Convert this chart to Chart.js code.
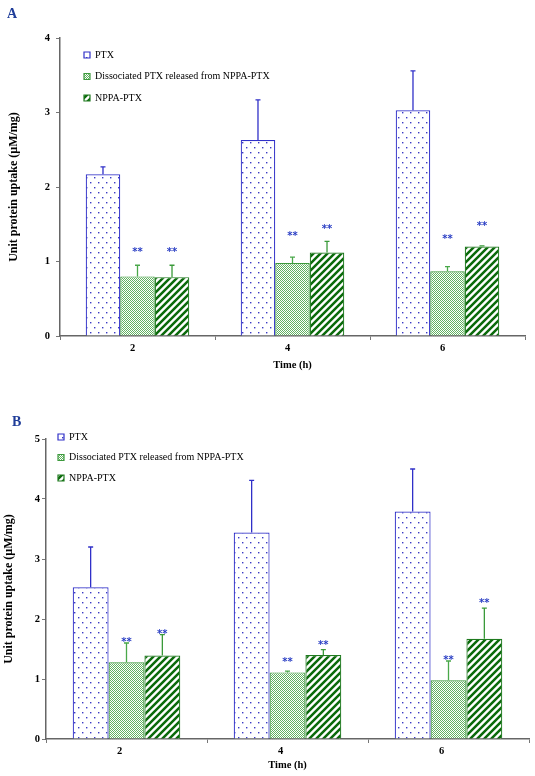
<!DOCTYPE html>
<html><head><meta charset="utf-8">
<script src="https://cdn.jsdelivr.net/npm/chart.js@4.4.1/dist/chart.umd.min.js"></script>
<style>
html,body{margin:0;padding:0;background:#fff;}
#wrap{position:relative;width:535px;height:776px;overflow:hidden;background:#fff;}
canvas{position:absolute;left:0;}
.panel{position:absolute;font:bold 14px "Liberation Serif",serif;color:#1f3d99;line-height:1;}
</style></head><body>
<div id="wrap">
<canvas id="cA" width="535" height="390" style="top:0"></canvas>
<canvas id="cB" width="535" height="386" style="top:390px"></canvas>
<div class="panel" style="left:7px;top:7px">A</div>
<div class="panel" style="left:12px;top:415px">B</div>
</div>
<script>
// ---- data ----
const timeLabels = ['2', '4', '6'];
const seriesNames = ['PTX', 'Dissociated PTX released from NPPA-PTX', 'NPPA-PTX'];
const xTitle = 'Time (h)';
const yTitle = 'Unit protein uptake (\u00b5M/mg)';

// Panel A
const ptxA      = [2.17, 2.63, 3.03];
const ptxErrA   = [0.10, 0.54, 0.53];
const dissA     = [0.80, 0.98, 0.87];
const dissErrA  = [0.15, 0.08, 0.06];
const nppaA     = [0.79, 1.12, 1.20];
const nppaErrA  = [0.16, 0.15, 0.01];
const dissSigA  = [1.17, 1.38, 1.34];   // height of "**" marks
const nppaSigA  = [1.17, 1.48, 1.52];
const yTicksA   = [0, 1, 2, 3, 4];

// Panel B
const ptxB      = [2.53, 3.44, 3.79];
const ptxErrB   = [0.67, 0.87, 0.71];
const dissB     = [1.28, 1.11, 0.98];
const dissErrB  = [0.32, 0.02, 0.32];
const nppaB     = [1.39, 1.40, 1.67];
const nppaErrB  = [0.35, 0.09, 0.51];
const dissSigB  = [1.67, 1.33, 1.37];
const nppaSigB  = [1.80, 1.61, 2.31];
const yTicksB   = [0, 1, 2, 3, 4, 5];

// ---- patterns ----
function makeCanvas(w, h) { const c = document.createElement('canvas'); c.width = w; c.height = h; return c; }
function dotPattern() {
  const c = makeCanvas(8, 10), g = c.getContext('2d');
  g.fillStyle = '#fff'; g.fillRect(0, 0, 8, 10);
  g.fillStyle = '#3a3ac4';
  g.fillRect(2, 2, 1.4, 1.4); g.fillRect(6, 7, 1.4, 1.4);
  return g.createPattern(c, 'repeat');
}
function finePattern() {
  const c = makeCanvas(2, 2), g = c.getContext('2d');
  g.fillStyle = '#fff'; g.fillRect(0, 0, 2, 2);
  g.fillStyle = '#62b262';
  g.fillRect(0, 0, 1, 1); g.fillRect(1, 1, 1, 1);
  return g.createPattern(c, 'repeat');
}
function hatchPattern() {
  const s = 7, c = makeCanvas(s, s), g = c.getContext('2d');
  g.fillStyle = '#fff'; g.fillRect(0, 0, s, s);
  g.strokeStyle = '#0b6a0b'; g.lineWidth = 2.5; g.lineCap = 'square';
  g.beginPath();
  g.moveTo(0, s); g.lineTo(s, 0);
  g.moveTo(-1, 1); g.lineTo(1, -1);
  g.moveTo(s - 1, s + 1); g.lineTo(s + 1, s - 1);
  g.stroke();
  return g.createPattern(c, 'repeat');
}

// ---- plugins ----
const errorPlugin = {
  id: 'errorMarks',
  afterDatasetsDraw(chart) {
    const ctx = chart.ctx, y = chart.scales.y;
    chart.data.datasets.forEach((ds, i) => {
      const meta = chart.getDatasetMeta(i);
      meta.data.forEach((bar, j) => {
        const v = ds.data[j], e = ds.errors[j];
        const yt = bar.y, ye = y.getPixelForValue(v + e);
        ctx.save();
        ctx.strokeStyle = ds.errorColor; ctx.lineWidth = 1.3;
        ctx.beginPath();
        ctx.moveTo(bar.x, yt); ctx.lineTo(bar.x, ye);
        ctx.moveTo(bar.x - 2.5, ye); ctx.lineTo(bar.x + 2.5, ye);
        ctx.stroke();
        if (ds.sig) {
          ctx.fillStyle = '#2b3fc4';
          ctx.font = 'bold 10px "DejaVu Sans", sans-serif';
          ctx.textAlign = 'center'; ctx.textBaseline = 'alphabetic';
          ctx.fillText('**', bar.x, y.getPixelForValue(ds.sig[j]) + 6);
        }
        ctx.restore();
      });
    });
  }
};
const legendPosPlugin = {
  id: 'legendPos',
  afterLayout(chart, args, opts) {
    const lg = chart.legend;
    if (!lg) return;
    lg.left = opts.x; lg.top = opts.y;
    lg.right = lg.left + lg.width; lg.bottom = lg.top + lg.height;
  }
};

function makeChart(id, p) {
  const dsets = [
    { label: seriesNames[0], data: p.ptx, errors: p.ptxErr, backgroundColor: dotPattern(),
      borderColor: '#3030c8', borderWidth: 1.2, errorColor: '#3030c8' },
    { label: seriesNames[1], data: p.diss, errors: p.dissErr, sig: p.dissSig, backgroundColor: finePattern(),
      borderColor: '#3d9a3d', borderWidth: 1.2, errorColor: '#4aa84a' },
    { label: seriesNames[2], data: p.nppa, errors: p.nppaErr, sig: p.nppaSig, backgroundColor: hatchPattern(),
      borderColor: '#1f7a1f', borderWidth: 1.2, errorColor: '#3a9a3a' }
  ];
  const serif = '"Liberation Serif", "Times New Roman", serif';
  return new Chart(document.getElementById(id), {
    type: 'bar',
    data: { labels: timeLabels, datasets: dsets },
    plugins: [errorPlugin, legendPosPlugin],
    options: {
      responsive: false, animation: false, devicePixelRatio: 1,
      layout: { padding: { left: 0, top: p.padTop, right: p.padRight, bottom: 0 } },
      datasets: { bar: { categoryPercentage: 0.668, barPercentage: 1.0 } },
      plugins: {
        tooltip: { enabled: false },
        legend: {
          position: 'chartArea', align: 'start',
          labels: { boxWidth: 6, boxHeight: 6, padding: p.legPad, color: '#000',
            font: { family: serif, size: 10 } }
        },
        legendPos: { x: p.legX, y: p.legY }
      },
      scales: {
        x: {
          afterFit(s) { s.height = p.xHeight; },
          grid: { drawOnChartArea: false, drawTicks: true, tickLength: 4, color: '#777' },
          border: { color: '#666', width: 1.5 },
          ticks: { color: '#000', padding: 2, labelOffset: p.labelOffset,
            font: { family: serif, size: 10.5, weight: 'bold' } },
          title: { display: true, text: xTitle, color: '#000',
            padding: { top: 0, bottom: p.xTitlePad },
            font: { family: serif, size: 10.5, weight: 'bold' } }
        },
        y: {
          min: 0, max: p.yTicks[p.yTicks.length - 1],
          afterFit(s) { s.width = p.yWidth; },
          afterBuildTicks(s) { s.ticks = p.yTicks.map(v => ({ value: v })); },
          grid: { drawOnChartArea: false, drawTicks: true, tickLength: 4, color: '#777' },
          border: { color: '#666', width: 1.5 },
          ticks: { color: '#000', padding: p.yTickPad,
            font: { family: serif, size: 10.5, weight: 'bold' } },
          title: { display: true, text: yTitle, color: '#000',
            padding: { top: p.yTitlePad, bottom: 0 },
            font: { family: serif, size: 12, weight: 'bold' } }
        }
      }
    }
  });
}

makeChart('cA', {
  ptx: ptxA, ptxErr: ptxErrA, diss: dissA, dissErr: dissErrA, nppa: nppaA, nppaErr: nppaErrA,
  dissSig: dissSigA, nppaSig: nppaSigA, yTicks: yTicksA,
  padTop: 38, padRight: 10, xHeight: 54, yWidth: 60, yTickPad: 6, yTitlePad: 6.8,
  xTitlePad: 18.7, labelOffset: -5, legPad: 11.5, legX: 72.5, legY: 38.5
});
makeChart('cB', {
  ptx: ptxB, ptxErr: ptxErrB, diss: dissB, dissErr: dissErrB, nppa: nppaB, nppaErr: nppaErrB,
  dissSig: dissSigB, nppaSig: nppaSigB, yTicks: yTicksB,
  padTop: 49, padRight: 6, xHeight: 37, yWidth: 46, yTickPad: 2, yTitlePad: 1.8,
  xTitlePad: 4, labelOffset: -7, legPad: 10.5, legX: 47.5, legY: 31.5
});
</script>
</body></html>
